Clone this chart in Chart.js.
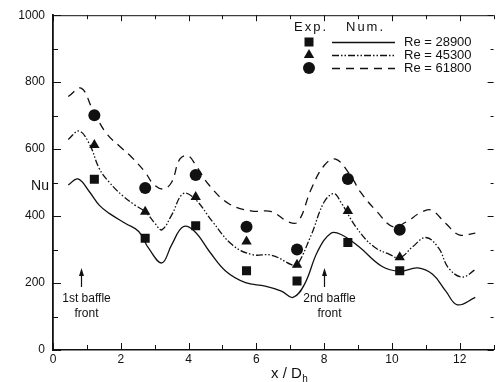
<!DOCTYPE html>
<html>
<head>
<meta charset="utf-8">
<script src="https://cdn.jsdelivr.net/npm/chart.js@4/dist/chart.umd.min.js"></script>
<style>
  body { margin: 0; background: #fff; }
  #wrap { width: 500px; height: 382px; }
</style>
</head>
<body>
<div id="wrap"><canvas id="nuChart"></canvas></div>
<script>
//measured points (same x for all three Re)
var expX = [1.22, 2.72, 4.21, 5.71, 7.2, 8.7, 10.23];
var exp28900 = [510, 334, 371, 237, 206, 321, 237];
var exp45300 = [612, 413, 457, 324, 255, 415, 277];
var exp61800 = [701, 484, 523, 368, 300, 511, 359];

//numerical curves
var num28900X = [0.45, 0.74, 1.08, 1.37, 1.66, 2.14, 2.53, 2.82, 3.21, 3.5, 3.84, 4.18, 4.61, 5.1, 5.68, 6.26, 6.74, 7.08, 7.42, 7.81, 8.2, 8.5, 9.02, 9.7, 10.23, 10.76, 11.2, 11.59, 11.93, 12.46];
var num28900 = [493, 511, 472, 432, 408, 378, 354, 304, 260, 314, 368, 354, 295, 235, 201, 191, 176, 157, 196, 295, 349, 345, 309, 250, 235, 245, 226, 176, 135, 157];

var num45300X = [0.45, 0.77, 1.08, 1.37, 1.66, 2.04, 2.43, 2.72, 3.01, 3.21, 3.5, 3.84, 4.18, 4.71, 5.29, 5.87, 6.45, 7.03, 7.18, 7.62, 8.0, 8.29, 8.49, 8.97, 9.46, 9.94, 10.23, 10.62, 11.0, 11.38, 11.67, 12.07, 12.46];
var num45300 = [629, 654, 614, 541, 501, 462, 432, 413, 378, 359, 403, 467, 452, 383, 314, 285, 283, 255, 250, 344, 442, 467, 442, 363, 309, 285, 275, 309, 336, 304, 245, 218, 240];

var num61800X = [0.45, 0.83, 1.17, 1.56, 1.95, 2.33, 2.72, 2.96, 3.25, 3.5, 3.74, 3.98, 4.22, 4.61, 5.19, 5.87, 6.45, 6.94, 7.23, 7.62, 8.0, 8.34, 8.78, 9.07, 9.56, 10.04, 10.43, 10.81, 11.15, 11.59, 11.98, 12.46];
var num61800 = [757, 782, 718, 649, 610, 575, 531, 496, 481, 501, 570, 580, 551, 492, 437, 415, 413, 383, 383, 481, 551, 570, 521, 472, 413, 368, 383, 408, 418, 378, 344, 349];

var legendLabels = ['Re = 28900', 'Re = 45300', 'Re = 61800'];
var baffleX = [0.82, 8.0];
var baffleText = [['1st baffle', 'front'], ['2nd baffle', 'front']];

var ink = '#111';
var font = '"Liberation Sans", Arial, sans-serif';

//turns two arrays into {x, y} points
function toPoints(xs, ys) {
    var pts = [];
    for (var i = 0; i < xs.length; i++) {
        pts.push({x: xs[i], y: ys[i]});
    }
    return pts;
}

function curve(xs, ys, dash) {
    return {
        data: toPoints(xs, ys),
        showLine: true,
        borderColor: ink,
        borderWidth: 1.3,
        borderDash: dash,
        pointRadius: 0,
        tension: 0.4,
        fill: false
    };
}

function marks(ys, style, r) {
    return {
        data: toPoints(expX, ys),
        showLine: false,
        pointStyle: style,
        pointRadius: r,
        backgroundColor: ink,
        borderColor: ink,
        borderWidth: 0
    };
}

var lineDashes = [[], [7, 2, 1.5, 2, 1.5, 2], [8, 6]];

//draws a marker by hand for the legend
function drawMarker(ctx, style, x, y) {
    ctx.beginPath();
    if (style == 'rect') {
        ctx.rect(x - 4.5, y - 4.5, 9, 9);
    } else if (style == 'triangle') {
        ctx.moveTo(x, y - 6);
        ctx.lineTo(x + 5.2, y + 3);
        ctx.lineTo(x - 5.2, y + 3);
        ctx.closePath();
    } else {
        ctx.arc(x, y, 6, 0, Math.PI * 2);
    }
    ctx.fill();
}

var decor = {
    id: 'decor',
    afterDraw: function(chart) {
        var ctx = chart.ctx;
        var a = chart.chartArea;
        var xs = chart.scales.x;
        var ys = chart.scales.y;
        ctx.save();
        ctx.strokeStyle = ink;
        ctx.fillStyle = ink;

        //top frame line
        ctx.lineWidth = 1;
        ctx.beginPath();
        ctx.moveTo(a.left, a.top + 0.5);
        ctx.lineTo(a.right, a.top + 0.5);
        ctx.stroke();

        //inward ticks on all four sides
        ctx.beginPath();
        for (var v = 0; v <= 13; v++) {
            var px = Math.round(xs.getPixelForValue(v)) + 0.5;
            var len = v % 2 == 0 ? 7 : 5;
            ctx.moveTo(px, a.bottom);
            ctx.lineTo(px, a.bottom - len);
            ctx.moveTo(px, a.top);
            ctx.lineTo(px, a.top + len - 1);
        }
        for (var n = 0; n <= 1000; n += 100) {
            var py = Math.round(ys.getPixelForValue(n)) + 0.5;
            var l2 = n % 200 == 0 ? 8 : 5;
            ctx.moveTo(a.left, py);
            ctx.lineTo(a.left + l2, py);
            ctx.moveTo(a.right, py);
            ctx.lineTo(a.right - (l2 - 2), py);
        }
        ctx.stroke();

        //axis titles
        ctx.font = '14px ' + font;
        ctx.textAlign = 'center';
        ctx.textBaseline = 'middle';
        ctx.fillText('Nu', 40, 186);
        ctx.textAlign = 'left';
        ctx.textBaseline = 'alphabetic';
        ctx.font = '15px ' + font;
        ctx.fillText('x / D', 271, 378);
        var w = ctx.measureText('x / D').width;
        ctx.font = '10px ' + font;
        ctx.fillText('h', 271 + w + 0.5, 382);

        //baffle arrows and labels
        ctx.font = '12px ' + font;
        ctx.textAlign = 'center';
        ctx.textBaseline = 'middle';
        for (var b = 0; b < baffleX.length; b++) {
            var bx = Math.round(xs.getPixelForValue(baffleX[b])) + 0.5;
            ctx.lineWidth = 1.2;
            ctx.beginPath();
            ctx.moveTo(bx, 287);
            ctx.lineTo(bx, 272);
            ctx.stroke();
            ctx.beginPath();
            ctx.moveTo(bx, 268);
            ctx.lineTo(bx + 2.5, 276);
            ctx.lineTo(bx - 2.5, 276);
            ctx.closePath();
            ctx.fill();
            ctx.fillText(baffleText[b][0], bx + 5, 299);
            ctx.fillText(baffleText[b][1], bx + 5, 314);
        }

        //legend
        ctx.textAlign = 'left';
        ctx.font = '13px ' + font;
        ctx.letterSpacing = '2px';
        ctx.fillText('Exp.', 294, 27);
        ctx.fillText('Num.', 346, 27);
        ctx.letterSpacing = '0px';
        var rowY = [42, 55, 68];
        var styles = ['rect', 'triangle', 'circle'];
        for (var k = 0; k < 3; k++) {
            drawMarker(ctx, styles[k], 309, rowY[k]);
            ctx.lineWidth = 1.3;
            ctx.setLineDash(lineDashes[k]);
            ctx.beginPath();
            ctx.moveTo(332, rowY[k] + 0.5);
            ctx.lineTo(395, rowY[k] + 0.5);
            ctx.stroke();
            ctx.setLineDash([]);
            ctx.fillText(legendLabels[k], 404, rowY[k]);
        }
        ctx.restore();
    }
};

var ctx = document.getElementById('nuChart').getContext('2d');
var nuChart = new Chart(ctx, {
    type: 'scatter',
    data: {
        datasets: [
            curve(num28900X, num28900, lineDashes[0]),
            curve(num45300X, num45300, lineDashes[1]),
            curve(num61800X, num61800, lineDashes[2]),
            marks(exp28900, 'rect', 6.4),
            marks(exp45300, 'triangle', 6),
            marks(exp61800, 'circle', 6)
        ]
    },
    options: {
        responsive: true,
        maintainAspectRatio: false,
        animation: false,
        layout: { padding: { top: 11, right: 0, left: 0, bottom: 0 } },
        plugins: {
            legend: { display: false },
            tooltip: { enabled: false }
        },
        scales: {
            x: {
                type: 'linear',
                min: 0,
                max: 13,
                ticks: {
                    stepSize: 2,
                    includeBounds: false,
                    color: ink,
                    padding: 2,
                    font: { family: font, size: 12 },
                    callback: function(v) { return String(v); }
                },
                grid: { drawOnChartArea: false, drawTicks: false },
                border: { display: true, color: ink, width: 1.6 },
                afterFit: function(scale) { scale.height = 32; }
            },
            y: {
                min: 0,
                max: 1000,
                ticks: {
                    stepSize: 200,
                    color: ink,
                    padding: 8,
                    font: { family: font, size: 12 },
                    callback: function(v) { return String(v); }
                },
                grid: { drawOnChartArea: false, drawTicks: false },
                border: { display: true, color: ink, width: 1.8 },
                afterFit: function(scale) { scale.width = 53; }
            }
        }
    },
    plugins: [decor]
});
</script>
</body>
</html>
